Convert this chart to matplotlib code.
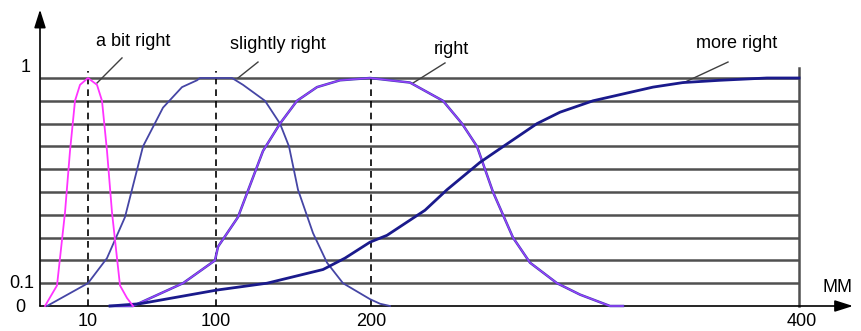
import matplotlib
matplotlib.use("Agg")
import matplotlib.pyplot as plt

plt.rcParams['font.family'] = ['Liberation Sans', 'DejaVu Sans']

# x values are positions along the drawn (non-uniform) MM axis
TICK_POS = [48, 176, 331, 759]
TICK_LABELS = ["10", "100", "200", "400"]
GRID_LEVELS = [0.1, 0.2, 0.3, 0.4, 0.5, 0.6, 0.7, 0.8, 0.9, 1.0]

a_bit_x = [5, 17, 25, 30, 35, 40, 48, 57, 62, 67, 72, 80, 87, 93]
a_bit_y = [0.0, 0.09, 0.41, 0.68, 0.90, 0.97, 1.0, 0.97, 0.90, 0.68, 0.41, 0.09, 0.035, 0.0]

slightly_x = [7, 48, 67, 85, 103, 123, 142, 157, 160, 192, 203, 225, 240, 249, 258,
              273, 287, 303, 330, 340, 350]
slightly_y = [0.0, 0.10, 0.21, 0.39, 0.70, 0.87, 0.96, 0.99, 1.0, 1.0, 0.97, 0.90, 0.80,
              0.70, 0.51, 0.32, 0.19, 0.10, 0.03, 0.01, 0.0]

right_x = [70, 93, 143, 175, 178, 198, 223, 240, 257, 277, 300, 330, 370, 403, 422,
           437, 453, 473, 490, 517, 540, 570, 583]
right_y = [0.0, 0.0, 0.10, 0.20, 0.26, 0.39, 0.68, 0.80, 0.90, 0.96, 0.99, 1.0, 0.98,
           0.90, 0.80, 0.70, 0.50, 0.30, 0.19, 0.10, 0.05, 0.0, 0.0]

more_x = [70, 100, 177, 227, 283, 305, 330, 347, 385, 407, 440, 460, 497, 520, 553,
          613, 643, 680, 727, 759]
more_y = [0.0, 0.01, 0.07, 0.10, 0.16, 0.21, 0.28, 0.31, 0.42, 0.51, 0.63, 0.69, 0.80,
          0.85, 0.90, 0.96, 0.98, 0.99, 1.0, 1.0]

# label text, text position, leader start on curve
labels = ["a bit right", "slightly right", "right", "more right"]
label_xy = [(93, 1.158), (238, 1.145), (411, 1.127), (697, 1.153)]
leader_from = [(57, 0.978), (198, 1.0), (373, 0.978), (643, 0.978)]
leader_to = [(82, 1.088), (218, 1.07), (405, 1.066), (688, 1.07)]

fig = plt.figure(figsize=(8.61, 3.31), dpi=100)
ax = fig.add_axes([40 / 861, 25 / 331, 759 / 861, 228 / 331])
ax.set_xlim(0, 759)
ax.set_ylim(0, 1)
ax.axis("off")

# grid
for lv in GRID_LEVELS:
    ax.plot([0, 759], [lv, lv], color="#505050", lw=1.8, zorder=1,
            solid_capstyle="butt", clip_on=False)
ax.plot([759, 759], [0, 1.045], color="#505050", lw=1.8, clip_on=False, zorder=1)

# axes with arrows
ax.annotate("", xy=(0, 1.30), xytext=(0, 0), annotation_clip=False,
            arrowprops=dict(arrowstyle="-|>,head_length=1.1,head_width=0.35",
                            color="black", lw=1.2, shrinkA=0, shrinkB=0))
ax.annotate("", xy=(813, 0), xytext=(0, 0), annotation_clip=False,
            arrowprops=dict(arrowstyle="-|>,head_length=1.1,head_width=0.35",
                            color="black", lw=1.2, shrinkA=0, shrinkB=0))

# dashed markers at tick positions
for p in TICK_POS[:3]:
    ax.plot([p, p], [0, 1.03], color="black", lw=1.2, ls=(0, (4, 3)), clip_on=False, zorder=2)

# curves
ax.plot(a_bit_x, a_bit_y, color="#ff33ff", lw=1.3, zorder=4, clip_on=False)
ax.plot(slightly_x, slightly_y, color="#4545a5", lw=1.3, zorder=3, clip_on=False)
ax.plot(right_x, right_y, color="#4040b0", lw=1.8, zorder=3, clip_on=False)
ax.plot(right_x, right_y, color="#9a40ff", lw=1.0, zorder=3, clip_on=False)
ax.plot(more_x, more_y, color="#1a1a8c", lw=2.0, zorder=3, clip_on=False)

# curve labels with leader lines
for txt, (tx, ty), p0, p1 in zip(labels, label_xy, leader_from, leader_to):
    ax.text(tx, ty, txt, ha="center", va="center", fontsize=13, clip_on=False)
    ax.plot([p0[0], p1[0]], [p0[1], p1[1]], color="#404040", lw=1.0, clip_on=False)

# axis labels
for p, lab in zip(TICK_POS, TICK_LABELS):
    ax.text(p + (3 if lab == "400" else 0), -0.07, lab, ha="center", va="center", fontsize=13)
ax.text(-14, 1.045, "1", ha="center", va="center", fontsize=13)
ax.text(-18, 0.10, "0.1", ha="center", va="center", fontsize=13)
ax.text(-20, -0.005, "0", ha="center", va="center", fontsize=13)
ax.text(798, 0.083, "MM", ha="center", va="center", fontsize=13)

fig.savefig("out.png", dpi=100)
